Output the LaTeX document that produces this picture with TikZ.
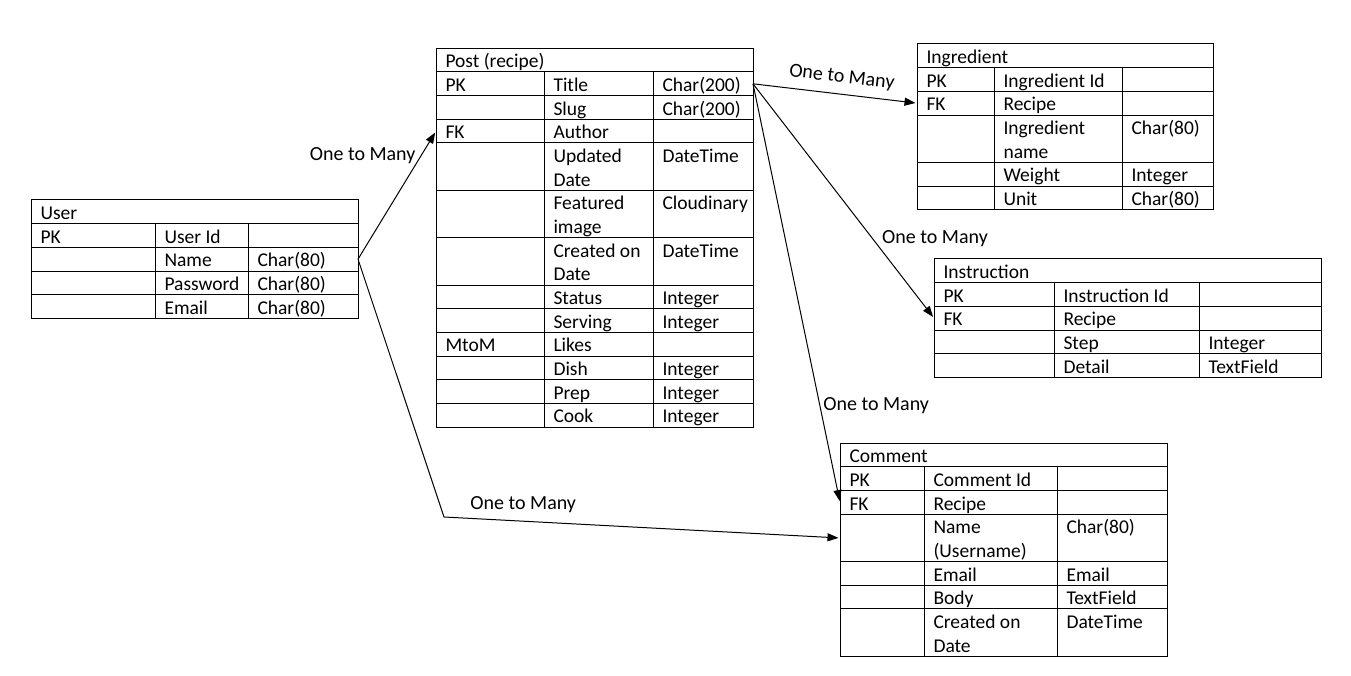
\documentclass[tikz,border=0pt]{standalone}
\usepackage{fontspec}
\setmainfont{Carlito}
\usetikzlibrary{arrows.meta}

\newcommand{\rowh}{23.67}
\newcommand{\cellt}[1]{\begin{tabular}[t]{@{}l@{}}#1\end{tabular}}
% table columns: left, key|field, field|type, right, top
\newcommand{\tstart}[5]{\xdef\colL{#1}\xdef\colA{#2}\xdef\colB{#3}\xdef\colR{#4}\xdef\ycur{#5}%
  \pgfmathsetmacro\tabw{#4-#1}\xdef\tabw{\tabw}}
\newcommand{\thead}[2]{%
  \node[rowbox, minimum width=\tabw pt, minimum height=\rowh pt] (#1) at (\colL,\ycur) {};
  \node[celltext] (#1-t) at (\colL+9,\ycur+19.5) {#2};
  \pgfmathsetmacro\ynext{\ycur+\rowh}\xdef\ycur{\ynext}}
\newcommand{\trow}[5]{%
  \pgfmathsetmacro\ynext{\ycur+#2*\rowh}\pgfmathsetmacro\rowhh{#2*\rowh}
  \node[rowbox, minimum width=\tabw pt, minimum height=\rowhh pt] (#1) at (\colL,\ycur) {};
  \draw (\colA,\ycur) -- (\colA,\ynext) (\colB,\ycur) -- (\colB,\ynext);
  \node[celltext] (#1-k) at (\colL+9,\ycur+19.5) {\cellt{#3}};
  \node[celltext] (#1-f) at (\colA+9,\ycur+19.5) {\cellt{#4}};
  \node[celltext] (#1-d) at (\colB+9,\ycur+19.5) {\cellt{#5}};
  \xdef\ycur{\ynext}}

\tikzset{
  rowbox/.style={draw, anchor=north west, inner sep=0pt, outer sep=0pt},
  celltext/.style={anchor=base west, inner sep=0pt, font=\fontsize{19.5}{23.67}\selectfont},
  lbl/.style={inner sep=2pt, font=\fontsize{20}{24}\selectfont},
  link/.style={-{Triangle[length=11pt,width=8pt]}, shorten >=1.5pt, line width=1pt}
}

\begin{document}
\begin{tikzpicture}[x=1pt, y=-1pt, line width=1pt]
  \useasboundingbox (0,0) rectangle (1351,676);

  % User
  \tstart{31}{155}{248}{358}{200}
  \thead{user}{User}
  \trow{user-id}{1}{PK}{User Id}{}
  \trow{user-name}{1}{}{Name}{Char(80)}
  \trow{user-pass}{1}{}{Password}{Char(80)}
  \trow{user-email}{1}{}{Email}{Char(80)}

  % Post (recipe)
  \tstart{436}{544}{653}{753}{48.3}
  \thead{post}{Post (recipe)}
  \trow{post-title}{1}{PK}{Title}{Char(200)}
  \trow{post-slug}{1}{}{Slug}{Char(200)}
  \trow{post-author}{1}{FK}{Author}{}
  \trow{post-updated}{2}{}{Updated\\Date}{DateTime}
  \trow{post-image}{2}{}{Featured\\image}{Cloudinary}
  \trow{post-created}{2}{}{Created on\\Date}{DateTime}
  \trow{post-status}{1}{}{Status}{Integer}
  \trow{post-serving}{1}{}{Serving}{Integer}
  \trow{post-likes}{1}{MtoM}{Likes}{}
  \trow{post-dish}{1}{}{Dish}{Integer}
  \trow{post-prep}{1}{}{Prep}{Integer}
  \trow{post-cook}{1}{}{Cook}{Integer}

  % Ingredient
  \tstart{917}{994}{1122}{1213}{44}
  \thead{ingr}{Ingredient}
  \trow{ingr-id}{1}{PK}{Ingredient Id}{}
  \trow{ingr-fk}{1}{FK}{Recipe}{}
  \trow{ingr-name}{2}{}{Ingredient\\name}{Char(80)}
  \trow{ingr-weight}{1}{}{Weight}{Integer}
  \trow{ingr-unit}{1}{}{Unit}{Char(80)}

  % Instruction
  \tstart{934}{1054}{1199}{1321}{259}
  \thead{instr}{Instruction}
  \trow{instr-id}{1}{PK}{Instruction Id}{}
  \trow{instr-fk}{1}{FK}{Recipe}{}
  \trow{instr-step}{1}{}{Step}{Integer}
  \trow{instr-detail}{1}{}{Detail}{TextField}

  % Comment
  \tstart{840}{924}{1057}{1167}{443.3}
  \thead{comment}{Comment}
  \trow{comment-id}{1}{PK}{Comment Id}{}
  \trow{comment-fk}{1}{FK}{Recipe}{}
  \trow{comment-name}{2}{}{Name\\(Username)}{Char(80)}
  \trow{comment-email}{1}{}{Email}{Email}
  \trow{comment-body}{1}{}{Body}{TextField}
  \trow{comment-created}{2}{}{Created on\\Date}{DateTime}

  % relations
  \coordinate (ubend) at (444,517);
  \draw[link] (user-name.east) -- node[lbl, pos=0.807, left=3pt] (lbl-author) {One to Many} (post-author.west);
  \draw[link] (user-name.east) -- (ubend) -- node[lbl, pos=0.2, above=6pt] (lbl-user) {One to Many} (comment-name.west);
  \draw[link] (post-title.east) -- node[lbl, pos=0.53, sloped, above=6pt] (lbl-ingr) {One to Many} (ingr-fk.west);
  \draw[link] (post-title.east) -- node[lbl, pos=0.661, right=7pt] (lbl-instr) {One to Many} (instr-fk.west);
  \draw[link] (post-title.east) -- node[lbl, pos=0.768, right=1pt] (lbl-comment) {One to Many} (comment-fk.west);
\end{tikzpicture}
\end{document}
